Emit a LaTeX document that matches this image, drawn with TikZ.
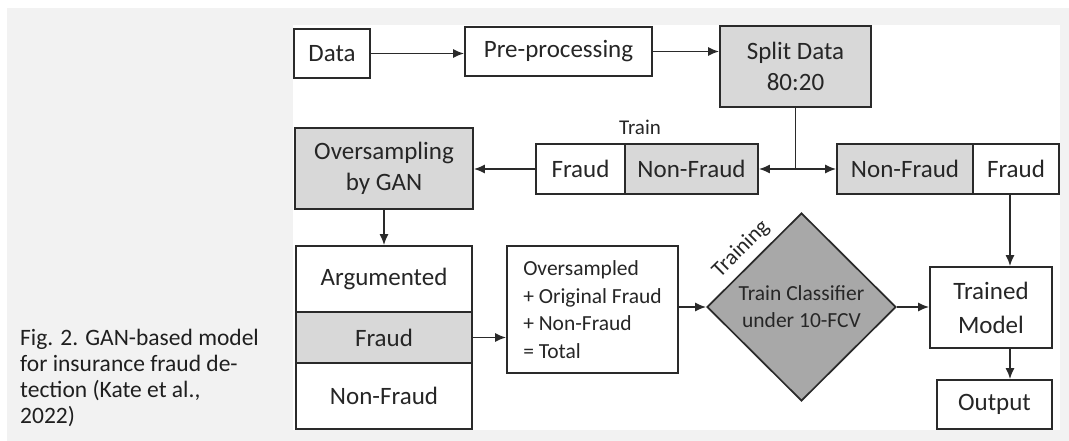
\documentclass[tikz,border=0pt]{standalone}
\usepackage{fontspec}
\setmainfont{Carlito}
\usetikzlibrary{shapes.geometric,arrows.meta,calc}

\definecolor{pagebg}{HTML}{F2F2F2}
\definecolor{linec}{HTML}{2A2A2A}
\definecolor{textc}{HTML}{262626}
\definecolor{lightfill}{HTML}{D8D8D8}
\definecolor{darkfill}{HTML}{A8A8A8}

\newcommand{\fsz}[2]{\fontsize{#1}{#2}\selectfont}

\begin{document}
\begin{tikzpicture}[x=1pt,y=-1pt,
  box/.style={draw=linec, line width=1.7pt, inner sep=0pt, align=center,
              text=textc, font=\fsz{25}{31}},
  graybox/.style={box, fill=lightfill},
  whitebox/.style={box, fill=white},
  flow/.style={draw=linec, line width=1.7pt, -{Latex[length=11pt,width=9pt]}},
  link/.style={draw=linec, line width=1.7pt},
  tag/.style={inner sep=0pt, text=textc}
]
% page, caption panel and drawing area
\useasboundingbox (0,0) rectangle (1069,441);
\fill[white] (0,0) rectangle (1069,441);
\fill[pagebg] (7,8) rectangle (1069,441);
\fill[white] (293,25) rectangle (1060,430);

% top row
\node[whitebox, minimum width=76pt, minimum height=49pt] (data) at (332,53.5) {Data};
\node[whitebox, minimum width=187pt, minimum height=49pt] (pre) at (558.5,51.5) {Pre-processing};
\node[graybox, minimum width=151pt, minimum height=81pt] (split) at (795.5,66.5) {Split Data\\80:20};

% train / test partitions
\node[whitebox, minimum width=89pt, minimum height=50pt] (trainF) at (580.5,169) {Fraud};
\node[graybox, minimum width=133pt, minimum height=50pt] (trainNF) at (691.5,169) {Non-Fraud};
\node[tag, font=\fsz{21}{25}] (trainlbl) at (640,127) {Train};
\node[graybox, minimum width=136pt, minimum height=50pt] (testNF) at (905,169) {Non-Fraud};
\node[whitebox, minimum width=86pt, minimum height=50pt] (testF) at (1016,169) {Fraud};

% oversampling branch
\node[graybox, minimum width=178pt, minimum height=81pt] (gan) at (384,168.5) {Oversampling\\by GAN};
\node[whitebox, minimum width=176pt, minimum height=66pt] (aug) at (384,279) {Argumented};
\node[graybox, minimum width=176pt, minimum height=51pt] (augF) at (384,337.5) {Fraud};
\node[whitebox, minimum width=176pt, minimum height=66pt] (augNF) at (384,396) {Non-Fraud};

\node[whitebox, minimum width=171pt, minimum height=127pt, align=left,
      font=\fsz{21.5}{27.7}] (sum) at (592.5,309.5)
  {Oversampled\\+ Original Fraud\\+ Non-Fraud\\= Total};

% classifier and results
\node[diamond, draw=linec, line width=1.7pt, fill=darkfill, minimum width=189pt,
      minimum height=188pt, inner sep=0pt, align=center, text=textc,
      font=\fsz{21.5}{27}] (clf) at (801.5,307) {Train Classifier\\under 10-FCV};
\node[tag, rotate=45, font=\fsz{22}{26}] (trlbl) at (741,249) {Training};
\node[whitebox, minimum width=122pt, minimum height=81pt, font=\fsz{25}{34}] (model) at (991,307.5) {Trained\\Model};
\node[whitebox, minimum width=115pt, minimum height=49pt] (out) at (994.5,404.5) {Output};

% connectors
\draw[flow] (data.east) -- (data.east -| pre.west);
\draw[flow] (pre.east) -- (pre.east -| split.west);
\coordinate (fork) at (split.south |- trainNF.east);
\draw[link] (split.south) -- (fork);
\draw[flow] (fork) -- (trainNF.east);
\draw[flow] (fork) -- (testNF.west);
\draw[flow] (trainF.west) -- (trainF.west -| gan.east);
\draw[flow] (gan.south) -- (aug.north);
\draw[flow] (augF.east) -- (augF.east -| sum.west);
\draw[flow] (clf.west -| sum.east) -- (clf.west);
\draw[flow] (clf.east) -- (clf.east -| model.west);
\coordinate (drop) at ([xshift=-6pt]testF.south);
\draw[flow] (drop) -- (drop |- model.north);
\coordinate (exit) at ([xshift=19pt]model.south);
\draw[flow] (exit) -- (exit |- out.north);

% caption
\node[anchor=north west, align=left, inner sep=0pt, text=black!88,
      font=\fsz{23.5}{26}] (cap) at (20,329)
  {Fig. 2. GAN-based model\\for insurance fraud de-\\tection (Kate et al.,\\2022)};
\end{tikzpicture}
\end{document}
